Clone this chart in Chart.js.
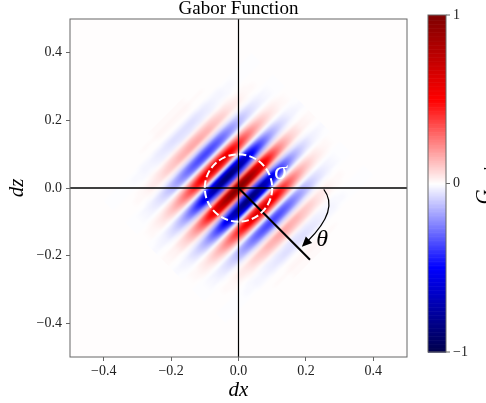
<!DOCTYPE html>
<html lang="en">
<head>
  <meta charset="UTF-8">
  <title>Gabor Function</title>
  <style>
    html, body { margin: 0; padding: 0; background: #fff; }
    #wrap { width: 486px; height: 403px; }
  </style>
</head>
<body>
  <div id="wrap"><canvas id="chart" width="486" height="403"></canvas></div>

  <script src="https://cdn.jsdelivr.net/npm/chart.js"></script>
  <script>
    // axis ticks
    var xTicks = [-0.4, -0.2, 0.0, 0.2, 0.4];
    var zTicks = [-0.4, -0.2, 0.0, 0.2, 0.4];
    var cbTicks = [-1, 0, 1];
    var cbTickLabels = ['\u22121', '0', '1'];

    // values read across the stripes (along theta), u = -0.30 .. 0.30 step 0.01
    var uStart = -0.30, uStep = 0.01;
    var waveU = [
       0.01, 0.01, 0.02, 0.01, 0.00, -0.03, -0.06, -0.06, -0.04, 0.03,
       0.11, 0.16, 0.16, 0.06, -0.11, -0.29, -0.37, -0.29, -0.04, 0.30,
       0.57, 0.63, 0.40, -0.06, -0.57, -0.87, -0.81, -0.38, 0.24, 0.79,
       1.00,
       0.79, 0.24, -0.38, -0.81, -0.87, -0.57, -0.06, 0.40, 0.63, 0.57,
       0.30, -0.04, -0.29, -0.37, -0.29, -0.11, 0.06, 0.16, 0.16, 0.11,
       0.03, -0.04, -0.06, -0.06, -0.03, 0.00, 0.01, 0.02, 0.01, 0.01
    ];

    // envelope read along the stripes, v = -0.30 .. 0.30 step 0.02
    var vStart = -0.30, vStep = 0.02;
    var envV = [
      0.01, 0.02, 0.03, 0.06, 0.09, 0.14, 0.20, 0.28, 0.38, 0.49, 0.61, 0.73, 0.84, 0.92, 0.98,
      1.00,
      0.98, 0.92, 0.84, 0.73, 0.61, 0.49, 0.38, 0.28, 0.20, 0.14, 0.09, 0.06, 0.03, 0.02, 0.01
    ];

    var sigma = 0.1;        // radius of dashed circle
    var thetaDeg = -45;     // direction of the wave vector
    var thetaLen = 0.3;

    var serif = "'Liberation Serif', 'Times New Roman', serif";

    // matplotlib "seismic" colour map, 256 levels
    function seismic(val) {
      var t = (val + 1) / 2;
      var idx = Math.min(255, Math.max(0, Math.floor(t * 256)));
      t = idx / 255;
      var r, g, b, f;
      if (t < 0.25) { f = t / 0.25; r = 0; g = 0; b = 0.3 + 0.7 * f; }
      else if (t < 0.5) { f = (t - 0.25) / 0.25; r = f; g = f; b = 1; }
      else if (t < 0.75) { f = (t - 0.5) / 0.25; r = 1; g = 1 - f; b = 1 - f; }
      else { f = (t - 0.75) / 0.25; r = 1 - 0.5 * f; g = 0; b = 0; }
      return [Math.round(r * 255), Math.round(g * 255), Math.round(b * 255)];
    }
    function rgb(c) { return 'rgb(' + c[0] + ',' + c[1] + ',' + c[2] + ')'; }

    // small image of the cells in (u, v) space
    var cells = document.createElement('canvas');
    cells.width = waveU.length;
    cells.height = envV.length;
    (function () {
      var cx = cells.getContext('2d');
      var img = cx.createImageData(cells.width, cells.height);
      for (var j = 0; j < envV.length; j++) {
        for (var i = 0; i < waveU.length; i++) {
          var c = seismic(waveU[i] * envV[j]);
          var k = (j * cells.width + i) * 4;
          img.data[k] = c[0]; img.data[k + 1] = c[1]; img.data[k + 2] = c[2]; img.data[k + 3] = 255;
        }
      }
      cx.putImageData(img, 0, 0);
    })();

    function fmtTick(v) {
      if (Math.abs(v) < 1e-9) return '0.0';
      return (v < 0 ? '\u2212' : '') + Math.abs(v).toFixed(1);
    }

    var gaborPlugin = {
      id: 'gabor',
      beforeDatasetsDraw: function (chart) {
        var ctx = chart.ctx, a = chart.chartArea;
        var xs = chart.scales.x, ys = chart.scales.y;
        ctx.save();
        ctx.beginPath();
        ctx.rect(a.left, a.top, a.right - a.left, a.bottom - a.top);
        ctx.clip();
        ctx.fillStyle = rgb(seismic(0));
        ctx.fillRect(a.left, a.top, a.right - a.left, a.bottom - a.top);

        var X0 = xs.getPixelForValue(0), Y0 = ys.getPixelForValue(0);
        var kx = xs.getPixelForValue(1) - X0, ky = Y0 - ys.getPixelForValue(1);
        var s2 = Math.SQRT2;
        var uA = uStart - uStep / 2, vA = vStart - vStep / 2;
        ctx.imageSmoothingEnabled = true;
        ctx.imageSmoothingQuality = 'high';
        ctx.transform(kx * uStep / s2, ky * uStep / s2, kx * vStep / s2, -ky * vStep / s2,
                      X0 + kx / s2 * (uA + vA), Y0 + ky / s2 * (uA - vA));
        ctx.drawImage(cells, 0, 0);
        ctx.restore();
      },
      afterDatasetsDraw: function (chart) {
        var ctx = chart.ctx, a = chart.chartArea;
        var xs = chart.scales.x, ys = chart.scales.y;
        var px = function (v) { return xs.getPixelForValue(v); };
        var py = function (v) { return ys.getPixelForValue(v); };

        ctx.save();
        // dashed sigma circle
        ctx.strokeStyle = '#fff';
        ctx.lineWidth = 2;
        ctx.setLineDash([7.4, 3.2]);
        ctx.beginPath();
        ctx.arc(px(0), py(0), px(sigma) - px(0), 0, Math.PI * 2);
        ctx.stroke();
        ctx.setLineDash([]);

        ctx.fillStyle = '#fff';
        ctx.font = 'italic 26px ' + serif;
        ctx.textAlign = 'center';
        ctx.textBaseline = 'middle';
        ctx.fillText('\u03c3', px(0.125), py(0.046));

        // curved arrow for theta
        var s = [px(0.253), py(-0.004)], c = [px(0.300), py(-0.064)], e = [px(0.188), py(-0.174)];
        var dx = e[0] - c[0], dy = e[1] - c[1], dl = Math.hypot(dx, dy);
        dx /= dl; dy /= dl;
        var hl = 10, hw = 4.5;
        ctx.strokeStyle = '#000';
        ctx.lineWidth = 1.2;
        ctx.beginPath();
        ctx.moveTo(s[0], s[1]);
        ctx.quadraticCurveTo(c[0], c[1], e[0] - dx * hl * 0.8, e[1] - dy * hl * 0.8);
        ctx.stroke();
        ctx.fillStyle = '#000';
        ctx.beginPath();
        ctx.moveTo(e[0], e[1]);
        ctx.lineTo(e[0] - dx * hl - dy * hw, e[1] - dy * hl + dx * hw);
        ctx.lineTo(e[0] - dx * hl + dy * hw, e[1] - dy * hl - dx * hw);
        ctx.closePath();
        ctx.fill();

        ctx.font = 'italic 24px ' + serif;
        ctx.fillText('\u03b8', px(0.248), py(-0.154));

        // frame
        ctx.strokeStyle = '#666';
        ctx.lineWidth = 1;
        ctx.strokeRect(a.left, a.top, a.right - a.left, a.bottom - a.top);

        // title
        ctx.fillStyle = '#000';
        ctx.font = '19px ' + serif;
        ctx.textAlign = 'center';
        ctx.textBaseline = 'alphabetic';
        ctx.fillText('Gabor Function', (a.left + a.right) / 2, a.top - 5);

        // colour bar
        var cl = a.right + 21, cw = 18, ct = a.top - 4, cb = a.bottom - 5;
        var ch = cb - ct;
        for (var i = 0; i < 256; i++) {
          var v = -1 + (i + 0.5) / 128;
          ctx.fillStyle = rgb(seismic(v));
          var y0 = cb - (i + 1) * ch / 256;
          ctx.fillRect(cl, y0, cw, ch / 256 + 0.6);
        }
        ctx.strokeStyle = '#666';
        ctx.strokeRect(cl, ct, cw, ch);
        ctx.fillStyle = '#222';
        ctx.font = '14px ' + serif;
        ctx.textAlign = 'left';
        ctx.textBaseline = 'middle';
        for (var k = 0; k < cbTicks.length; k++) {
          var ty = cb - (cbTicks[k] + 1) / 2 * ch;
          ctx.beginPath();
          ctx.moveTo(cl + cw, ty);
          ctx.lineTo(cl + cw + 4, ty);
          ctx.stroke();
          ctx.fillText(cbTickLabels[k], cl + cw + 7, ty);
        }

        // colour bar label, reading upwards
        ctx.save();
        ctx.translate(490, 186);
        ctx.rotate(-Math.PI / 2);
        ctx.fillStyle = '#000';
        ctx.textBaseline = 'alphabetic';
        ctx.textAlign = 'left';
        ctx.font = 'italic 21px ' + serif;
        var gw = ctx.measureText('G').width;
        ctx.font = 'italic 14px ' + serif;
        var rw = ctx.measureText('real').width;
        var x0 = -(gw + rw) / 2;
        ctx.font = 'italic 21px ' + serif;
        ctx.fillText('G', x0, 0);
        ctx.font = 'italic 14px ' + serif;
        ctx.fillText('real', x0 + gw, 4);
        ctx.restore();

        ctx.restore();
      }
    };

    var tickFont = { family: serif, size: 14 };
    var labelFont = { family: serif, size: 21, style: 'italic' };

    var chart = new Chart(document.getElementById('chart'), {
      type: 'scatter',
      data: {
        datasets: [
          { data: [{ x: -0.5, y: 0 }, { x: 0.5, y: 0 }], showLine: true, borderColor: '#000', borderWidth: 1.5, pointRadius: 0 },
          { data: [{ x: 0, y: -0.5 }, { x: 0, y: 0.5 }], showLine: true, borderColor: '#000', borderWidth: 1.2, pointRadius: 0 },
          { data: [{ x: 0, y: 0 }, { x: thetaLen * Math.cos(thetaDeg * Math.PI / 180), y: thetaLen * Math.sin(thetaDeg * Math.PI / 180) }],
            showLine: true, borderColor: '#000', borderWidth: 2, pointRadius: 0 }
        ]
      },
      options: {
        responsive: false,
        animation: false,
        devicePixelRatio: 1,
        layout: { padding: { left: 0, right: 79, top: 19, bottom: 0 } },
        plugins: {
          legend: { display: false },
          tooltip: { enabled: false },
          title: { display: false }
        },
        scales: {
          x: {
            type: 'linear', min: -0.5, max: 0.5,
            afterBuildTicks: function (s) { s.ticks = xTicks.map(function (v) { return { value: v }; }); },
            afterFit: function (s) { s.height = 46; },
            grid: { drawOnChartArea: false, tickLength: 4, color: '#666' },
            border: { display: false },
            ticks: { font: tickFont, color: '#222', padding: 2, maxRotation: 0, autoSkip: false, callback: fmtTick },
            title: { display: true, text: 'dx', color: '#000', font: labelFont, padding: { top: 0, bottom: 0 } }
          },
          y: {
            type: 'linear', min: -0.5, max: 0.5,
            afterBuildTicks: function (s) { s.ticks = zTicks.map(function (v) { return { value: v }; }); },
            afterFit: function (s) { s.width = 70; },
            grid: { drawOnChartArea: false, tickLength: 4, color: '#666' },
            border: { display: false },
            ticks: { font: tickFont, color: '#222', padding: 4, autoSkip: false, callback: fmtTick },
            title: { display: true, text: 'dz', color: '#000', font: labelFont, padding: { top: 4.4, bottom: 0 } }
          }
        }
      },
      plugins: [gaborPlugin]
    });
  </script>
</body>
</html>
